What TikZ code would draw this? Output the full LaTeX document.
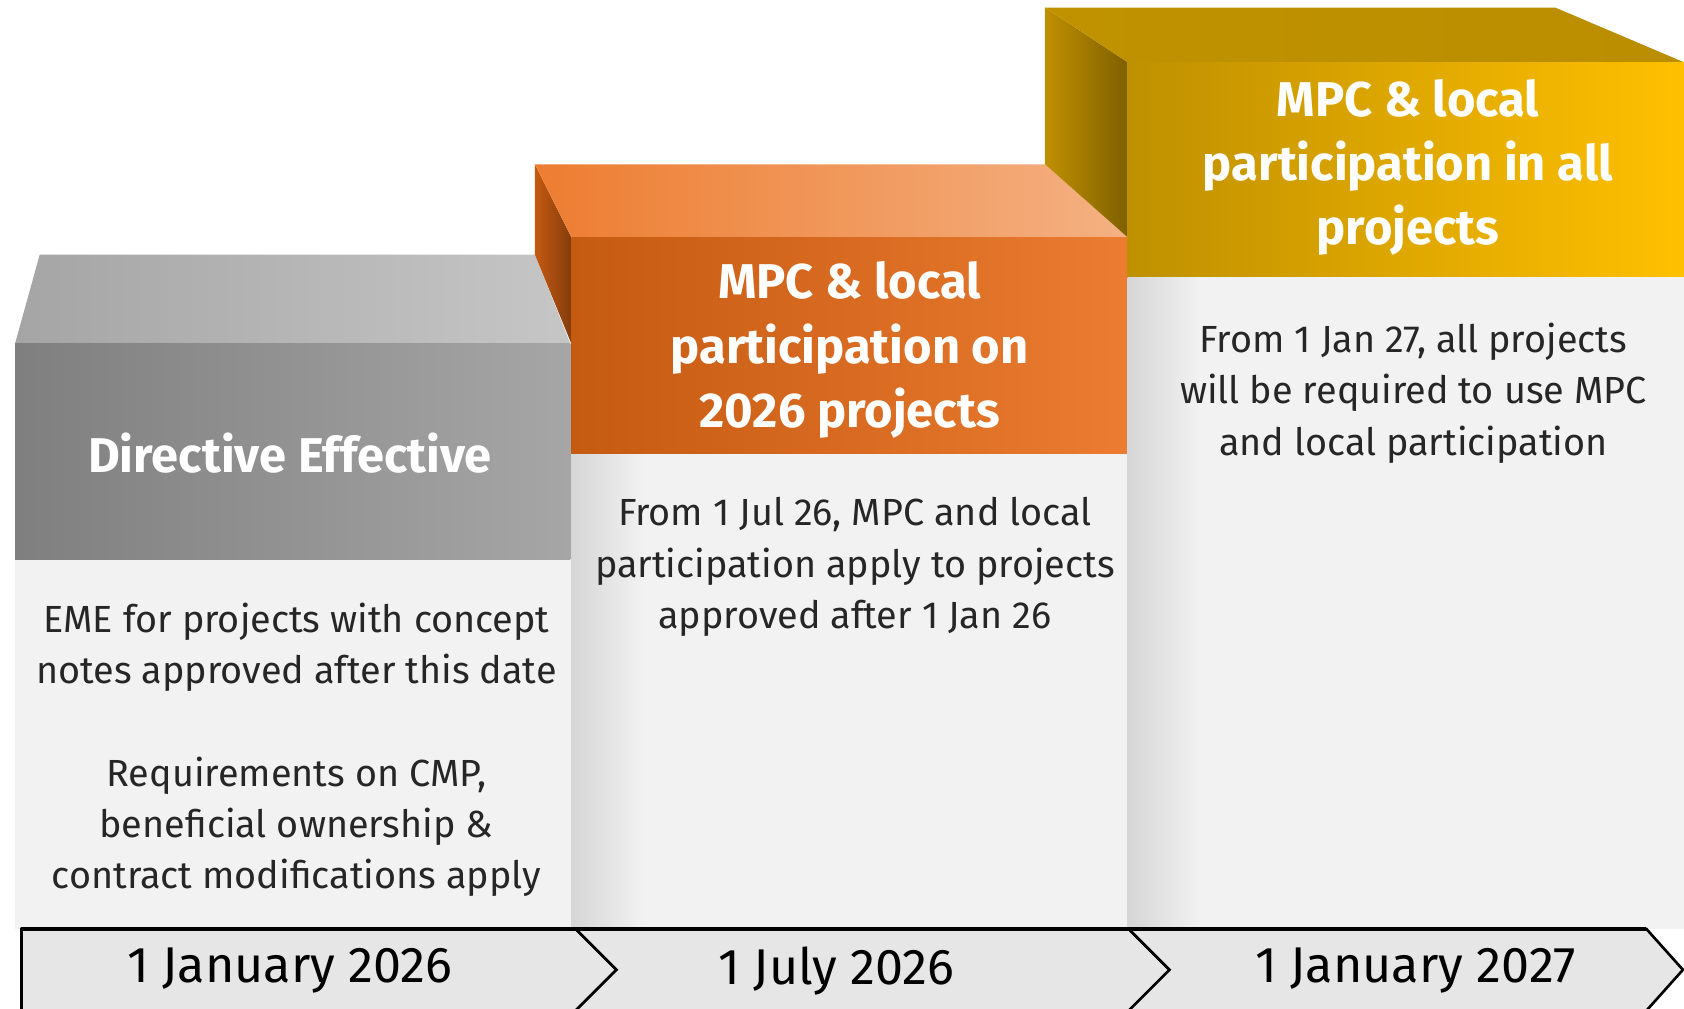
\documentclass[tikz,border=0pt]{standalone}
\usepackage{fontspec}
\setmainfont{Fira Sans}

\definecolor{grayTopL}{HTML}{A5A5A5}
\definecolor{grayTopR}{HTML}{C6C6C6}
\definecolor{grayFrontL}{HTML}{7F7F7F}
\definecolor{grayFrontR}{HTML}{A6A6A6}
\definecolor{orangeSideL}{HTML}{C55A11}
\definecolor{orangeSideR}{HTML}{843C0C}
\definecolor{orangeTopL}{HTML}{ED7D31}
\definecolor{orangeTopR}{HTML}{F4B183}
\definecolor{orangeFrontL}{HTML}{C55A11}
\definecolor{orangeFrontR}{HTML}{EB7C31}
\definecolor{goldSideL}{HTML}{BF9000}
\definecolor{goldSideR}{HTML}{7F6000}
\definecolor{goldTopL}{HTML}{C09200}
\definecolor{goldTopR}{HTML}{BA8E00}
\definecolor{goldFrontL}{HTML}{BF9000}
\definecolor{goldFrontR}{HTML}{FFC000}
\definecolor{bodyfill}{HTML}{F2F2F2}
\definecolor{shadowc}{HTML}{D6D6D6}
\definecolor{barfill}{HTML}{E6E6E6}
\definecolor{darktext}{HTML}{262626}

\begin{document}
\begin{tikzpicture}[
    x=0.1074mm, y=-0.1074mm,
    heading/.style={align=center, text=white, font=\bfseries\fontsize{13.9}{18.3}\selectfont},
    bodytext/.style={align=center, text=darktext, font=\fontsize{10.75}{14.6}\selectfont},
    datetext/.style={text=black, font=\fontsize{14.3}{16}\selectfont},
    chevron/.style={draw=black, line width=0.75pt, fill=barfill},
    panel/.style={fill=bodyfill}
]
\useasboundingbox (0,0) rectangle (1568,939);

% gray block
\shade[left color=grayTopL, right color=grayTopR] (37,237) -- (498,237) -- (531,320) -- (14,320) -- cycle;
\shade[left color=grayFrontL, right color=grayFrontR] (14,320) rectangle (531,521);
\fill[panel] (14,521) rectangle (532,865);

% orange block
\shade[left color=orangeSideL, right color=orangeSideR] (498,153) -- (532,221) -- (532,320) -- (498,237) -- cycle;
\shade[left color=orangeTopL, right color=orangeTopR] (498,153) -- (973,153) -- (1050,221) -- (532,221) -- cycle;
\shade[left color=orangeFrontL, right color=orangeFrontR] (532,221) rectangle (1050,423);
\fill[panel] (532,423) rectangle (1050,865);
\shade[left color=shadowc, right color=bodyfill] (532,423) rectangle (600,865);

% gold block
\shade[left color=goldSideL, right color=goldSideR] (973,7) -- (1050,58) -- (1050,221) -- (973,153) -- cycle;
\shade[left color=goldTopL, right color=goldTopR] (973,7) -- (1448,7) -- (1568,58) -- (1050,58) -- cycle;
\shade[left color=goldFrontL, right color=goldFrontR] (1050,58) rectangle (1568,258);
\fill[panel] (1050,258) rectangle (1568,865);
\shade[left color=shadowc, right color=bodyfill] (1050,258) rectangle (1118,865);

% timeline
\draw[chevron] (20,865) -- (536,865) -- (574,903) -- (536,941) -- (20,941) -- cycle;
\draw[chevron] (536,865) -- (1051,865) -- (1089,903) -- (1051,941) -- (536,941) -- (574,903) -- cycle;
\draw[chevron] (1051,865) -- (1533,865) -- (1567,903) -- (1533,941) -- (1051,941) -- (1089,903) -- cycle;
\draw[line width=0.9pt] (20,865) -- (1533,865);

\node (dirhead) [heading] at (270,422) {Directive Effective};
\node (dirbody) [bodytext] at (276,698) {EME for projects with concept\\notes approved after this date\\[14.6pt]Requirements on CMP,\\beneficial ownership \&\\contract modifications apply};

\node (julhead) [heading] at (791,326) {MPC \& local\\participation on\\2026 projects};
\node (julbody) [bodytext] at (796,528) {From 1 Jul 26, MPC and local\\participation apply to projects\\approved after 1 Jan 26};

\node (allhead) [heading] at (1311,156) {MPC \& local\\participation in all\\projects};
\node (allbody) [bodytext] at (1316,366) {From 1 Jan 27, all projects\\will be required to use MPC\\and local participation};

\node (jan26) [datetext] at (270,904) {1 January 2026};
\node (jul26) [datetext] at (779,904) {1 July 2026};
\node (jan27) [datetext] at (1318,904) {1 January 2027};
\end{tikzpicture}
\end{document}
